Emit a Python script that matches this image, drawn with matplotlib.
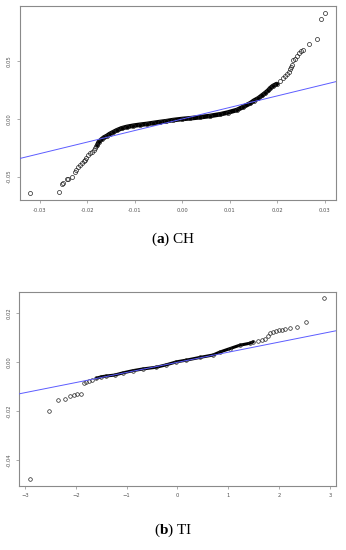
import numpy as np
import matplotlib
matplotlib.use("Agg")
import matplotlib.pyplot as plt

# panel (a) CH: theoretical vs sample quantiles
ch_x = [-0.0320, -0.0259, -0.0254, -0.0251, -0.0244, -0.0240, -0.0233, -0.0226,
        -0.0223, -0.0219, -0.0216, -0.0212, -0.0208, -0.0205, -0.0202, -0.0198,
        -0.0195, -0.0191, -0.0187, -0.0184, -0.0181,
        -0.0179, -0.0176, -0.0170, -0.0165, -0.0159, -0.0153, -0.0146, -0.0138,
        -0.0128, -0.0117, -0.0103, -0.0089, -0.0075, -0.0062, -0.0047, -0.0034,
        -0.0019, 0.0000, 0.0016, 0.0037, 0.0058, 0.0080, 0.0096, 0.0115, 0.0128,
        0.0143, 0.0151, 0.0160, 0.0168, 0.0174, 0.0181, 0.0185, 0.0191, 0.0199,
        0.0206, 0.0213, 0.0217, 0.0220, 0.0224, 0.0226, 0.0228, 0.0231, 0.0234,
        0.0237, 0.0242, 0.0246, 0.0250, 0.0254, 0.0267, 0.0284, 0.0292, 0.0300]
ch_y = [-0.0644, -0.0630, -0.0563, -0.0552, -0.0520, -0.0517, -0.0505, -0.0457,
        -0.0442, -0.0413, -0.0399, -0.0379, -0.0364, -0.0355, -0.0334, -0.0312,
        -0.0295, -0.0283, -0.0269, -0.0254, -0.0238,
        -0.0225, -0.0199, -0.0176, -0.0160, -0.0147, -0.0130, -0.0115, -0.0098,
        -0.0081, -0.0069, -0.0058, -0.0050, -0.0043, -0.0035, -0.0026, -0.0019,
        -0.0009, 0.0000, 0.0006, 0.0015, 0.0026, 0.0041, 0.0056, 0.0078, 0.0104,
        0.0136, 0.0159, 0.0179, 0.0204, 0.0223, 0.0247, 0.0266, 0.0286, 0.0303,
        0.0325, 0.0353, 0.0373, 0.0390, 0.0410, 0.0433, 0.0451, 0.0468, 0.0511,
        0.0520, 0.0546, 0.0568, 0.0585, 0.0598, 0.0650, 0.0693, 0.0864, 0.0916]
ch_dense = (-0.0180, 0.0200)
ch_slope = 1.0

# panel (b) TI
ti_x = [-2.894, -2.528, -2.343, -2.213, -2.114, -2.028, -1.969, -1.904,
        -1.838, -1.791, -1.740, -1.673, -1.594, -1.496, -1.398, -1.234, -1.071,
        -0.874, -0.677, -0.413, -0.217, -0.020, 0.177, 0.439, 0.701, 0.833,
        1.030, 1.226, 1.423, 1.490, 1.587, 1.654, 1.719, 1.783, 1.831, 1.882,
        1.935, 2.000, 2.053, 2.118, 2.211, 2.343, 2.526, 2.886]
ti_y = [-0.0476, -0.0199, -0.0155, -0.0151, -0.0139, -0.0133, -0.0131, -0.0131,
        -0.0085, -0.0082, -0.0078, -0.0072, -0.0065, -0.0059, -0.0056, -0.0052,
        -0.0043, -0.0034, -0.0027, -0.0020, -0.0010, 0.0002, 0.0009, 0.0020,
        0.0030, 0.0042, 0.0056, 0.0070, 0.0078, 0.0084, 0.0087, 0.0091, 0.0095,
        0.0108, 0.0119, 0.0123, 0.0128, 0.0132, 0.0132, 0.0136, 0.0139, 0.0144,
        0.0164, 0.0262]
ti_dense = (-1.60, 1.49)
ti_slope = 0.00414

plt.rcParams['mathtext.fontset'] = 'custom'
plt.rcParams['mathtext.bf'] = 'Liberation Serif:bold'
plt.rcParams['mathtext.rm'] = 'Liberation Serif'

fig = plt.figure(figsize=(3.46, 5.5), dpi=100)
ax1 = fig.add_axes([0.0564, 0.6364, 0.915, 0.3533])
ax2 = fig.add_axes([0.0558, 0.1169, 0.915, 0.3527])


def qq_panel(ax, x, y, dense, slope, lw_dense, ms):
    x = np.array(x)
    y = np.array(y)
    m = (x >= dense[0]) & (x <= dense[1])
    ax.plot(x[m], y[m], color='black', lw=lw_dense, solid_capstyle='round', zorder=2)
    ax.plot(x, y, 'o', mfc='none', mec='#222222', ms=ms, mew=0.5, zorder=3)
    ax.axline((0, 0), slope=slope, color='#5c5cff', lw=0.7, zorder=4)
    for s in ax.spines.values():
        s.set_color('#8a8a8a')
        s.set_linewidth(0.8)
    ax.tick_params(colors='#8a8a8a', labelcolor='#555555', labelsize=3.8,
                   length=2.5, width=0.5, pad=3)


qq_panel(ax1, ch_x, ch_y, ch_dense, ch_slope, 3.3, 2.9)
ax1.set_xlim(-0.0343, 0.0324)
ax1.set_ylim(-0.0702, 0.0982)
ax1.set_xticks([-0.03, -0.02, -0.01, 0.0, 0.01, 0.02, 0.03])
ax1.set_xticklabels(['-0.03', '-0.02', '-0.01', '0.00', '0.01', '0.02', '0.03'])
ax1.set_yticks([-0.05, 0.0, 0.05])
ax1.set_yticklabels(['-0.05', '0.00', '0.05'], rotation=90, va='center')

qq_panel(ax2, ti_x, ti_y, ti_dense, ti_slope, 2.2, 2.6)
ax2.set_xlim(-3.112, 3.118)
ax2.set_ylim(-0.0505, 0.0289)
ax2.set_xticks([-3, -2, -1, 0, 1, 2, 3])
ax2.set_yticks([-0.04, -0.02, 0.0, 0.02])
ax2.set_yticklabels(['-0.04', '-0.02', '0.00', '0.02'], rotation=90, va='center')

fig.text(0.5, 1 - 239 / 550, r'($\mathbf{a}$) CH', ha='center', va='center',
         fontsize=11, family='Liberation Serif')
fig.text(0.5, 1 - 530 / 550, r'($\mathbf{b}$) TI', ha='center', va='center',
         fontsize=11, family='Liberation Serif')

fig.savefig('out.png', dpi=100)
